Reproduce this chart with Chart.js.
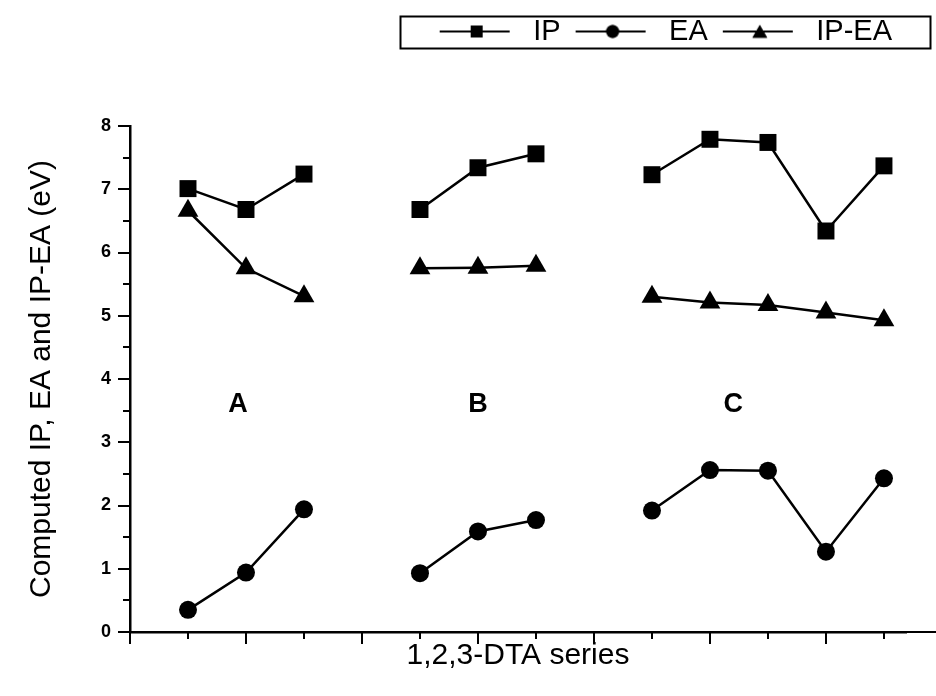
<!DOCTYPE html>
<html>
<head>
<meta charset="utf-8">
<script src="https://cdn.jsdelivr.net/npm/chart.js@4.4.0/dist/chart.umd.min.js"></script>
<style>
  html, body { margin: 0; padding: 0; background: #fff; }
  #wrap { width: 936px; height: 696px; position: relative; }
</style>
</head>
<body>
<div id="wrap"><canvas id="c" width="936" height="696"></canvas></div>
<script>
// Positions along the 1,2,3-DTA series axis; 4 and 8 are empty slots between groups
const positions = [1, 2, 3, 4, 5, 6, 7, 8, 9, 10, 11, 12, 13];
const ipValues  = [7.01, 6.68, 7.24, null, 6.68, 7.34, 7.56, null, 7.23, 7.79, 7.74, 6.34, 7.37];
const eaValues  = [0.35, 0.94, 1.94, null, 0.93, 1.59, 1.77, null, 1.92, 2.56, 2.55, 1.27, 2.43];
const gapValues = [6.66, 5.75, 5.31, null, 5.75, 5.76, 5.79, null, 5.30, 5.21, 5.17, 5.05, 4.93];
const seriesNames = ['IP', 'EA', 'IP-EA'];
const seriesStyles = ['rect', 'circle', 'triangle'];
const groupNames = ['A', 'B', 'C'];
const groupX = [1.86, 6.0, 10.4];
const groupY = 3.6;
const yTickLabels = [0, 1, 2, 3, 4, 5, 6, 7, 8];

const INK = '#000';
const FONT = '"Liberation Sans", Arial, sans-serif';
const markerRadius = { rect: 12, circle: 9, triangle: 12 };

function toPoints(values) {
  return positions.map((x, i) => ({ x: x, y: values[i] }));
}

// "line - marker - line" glyph used as the legend symbol (drawn in the left 72px)
function legendSymbol(style) {
  const c = document.createElement('canvas');
  c.width = 80; c.height = 24;
  const g = c.getContext('2d');
  g.strokeStyle = INK; g.fillStyle = INK; g.lineWidth = 2;
  g.beginPath(); g.moveTo(1, 12); g.lineTo(71, 12); g.stroke();
  const r = style === 'circle' ? 6.5 : 8.5;
  Chart.helpers.drawPoint(g, { pointStyle: style, radius: r, rotation: 0, borderWidth: 0 }, 38, style === 'triangle' ? 14 : 12);
  g.fill();
  return c;
}

const values = [ipValues, eaValues, gapValues];
const datasets = seriesNames.map((name, k) => ({
  label: name,
  data: toPoints(values[k]),
  borderColor: INK,
  backgroundColor: INK,
  borderWidth: 2.5,
  pointStyle: seriesStyles[k],
  pointRadius: markerRadius[seriesStyles[k]],
  pointBorderWidth: 0,
  pointBackgroundColor: INK,
  spanGaps: false,
  tension: 0
}));

// outward tick marks: long at labelled values, short in between
const tickMarks = {
  id: 'tickMarks',
  afterDraw(chart) {
    const ctx = chart.ctx;
    const xs = chart.scales.x, ys = chart.scales.y;
    const area = chart.chartArea;
    ctx.save();
    ctx.strokeStyle = INK;
    ctx.lineWidth = 2;
    ctx.beginPath();
    ys.ticks.forEach(t => {
      const py = Math.round(ys.getPixelForValue(t.value));
      const len = Number.isInteger(t.value) ? 12 : 7;
      ctx.moveTo(area.left, py); ctx.lineTo(area.left - len, py);
    });
    xs.ticks.forEach(t => {
      const px = Math.round(xs.getPixelForValue(t.value));
      const len = (t.value % 2 === 0) ? 12 : 7;
      ctx.moveTo(px, area.bottom); ctx.lineTo(px, area.bottom + len);
    });
    // the horizontal axis runs on to the edge of the figure
    ctx.moveTo(area.right, area.bottom); ctx.lineTo(chart.width, area.bottom);
    ctx.stroke();
    ctx.restore();
  }
};

// group captions A, B, C placed in data coordinates
const groupCaptions = {
  id: 'groupCaptions',
  afterDatasetsDraw(chart) {
    const ctx = chart.ctx;
    const xs = chart.scales.x, ys = chart.scales.y;
    ctx.save();
    ctx.fillStyle = INK;
    ctx.font = 'bold 27px ' + FONT;
    ctx.textAlign = 'center';
    ctx.textBaseline = 'middle';
    groupNames.forEach((g, i) => {
      ctx.fillText(g, xs.getPixelForValue(groupX[i]), ys.getPixelForValue(groupY));
    });
    ctx.restore();
  }
};

// rectangular frame around the legend row
const legendFrame = {
  id: 'legendFrame',
  afterDraw(chart) {
    const lg = chart.legend;
    if (!lg || !lg.legendHitBoxes || !lg.legendHitBoxes.length) return;
    const hb = lg.legendHitBoxes;
    const first = hb[0], last = hb[hb.length - 1];
    const cy = first.top + first.height / 2;
    const left = first.left - 39;
    const right = Math.min(last.left + last.width + 38, chart.width - 3);
    const ctx = chart.ctx;
    ctx.save();
    ctx.strokeStyle = INK;
    ctx.lineWidth = 2;
    ctx.strokeRect(Math.round(left) + 0.5, Math.round(cy - 16) + 0.5, Math.round(right - left), 32);
    ctx.restore();
  }
};

const symbols = seriesStyles.map(legendSymbol);

new Chart(document.getElementById('c'), {
  type: 'line',
  data: { datasets: datasets },
  plugins: [tickMarks, groupCaptions, legendFrame],
  options: {
    responsive: false,
    animation: false,
    devicePixelRatio: 1,
    layout: { padding: { top: 3, right: 30, bottom: 0, left: 0 } },
    plugins: {
      tooltip: { enabled: false },
      // empty band between the legend and the plot
      subtitle: {
        display: true,
        text: '',
        position: 'top',
        weight: 500,
        font: { size: 10 },
        padding: { top: 58, bottom: 0 }
      },
      legend: {
        display: true,
        position: 'top',
        align: 'end',
        labels: {
          usePointStyle: true,
          pointStyleWidth: 80,
          padding: 14,
          color: INK,
          font: { family: FONT, size: 29 },
          generateLabels: () => seriesNames.map((n, k) => ({
            text: n,
            pointStyle: symbols[k],
            fillStyle: INK,
            strokeStyle: INK,
            lineWidth: 0,
            hidden: false,
            datasetIndex: k
          }))
        }
      }
    },
    scales: {
      x: {
        type: 'linear',
        min: 0,
        max: 13.38,
        grid: { display: false, drawTicks: false },
        border: { display: true, color: INK, width: 2.5 },
        ticks: { display: false, stepSize: 1, includeBounds: false },
        title: {
          display: true,
          text: '1,2,3-DTA series',
          color: INK,
          font: { family: FONT, size: 30 },
          padding: { top: 0, bottom: 22 }
        },
        afterFit(scale) { scale.height = 64; }
      },
      y: {
        type: 'linear',
        min: 0,
        max: 8,
        grid: { display: false, drawTicks: false },
        border: { display: true, color: INK, width: 2.5 },
        ticks: {
          stepSize: 0.5,
          padding: 19,
          color: INK,
          font: { family: FONT, size: 18, weight: 'bold' },
          callback: (v) => yTickLabels.includes(v) ? String(v) : ''
        },
        title: {
          display: true,
          text: 'Computed IP, EA and IP-EA (eV)',
          color: INK,
          font: { family: FONT, size: 30 },
          padding: { top: 24, bottom: 0 }
        },
        afterFit(scale) { scale.width = 130; }
      }
    }
  }
});
</script>
</body>
</html>
